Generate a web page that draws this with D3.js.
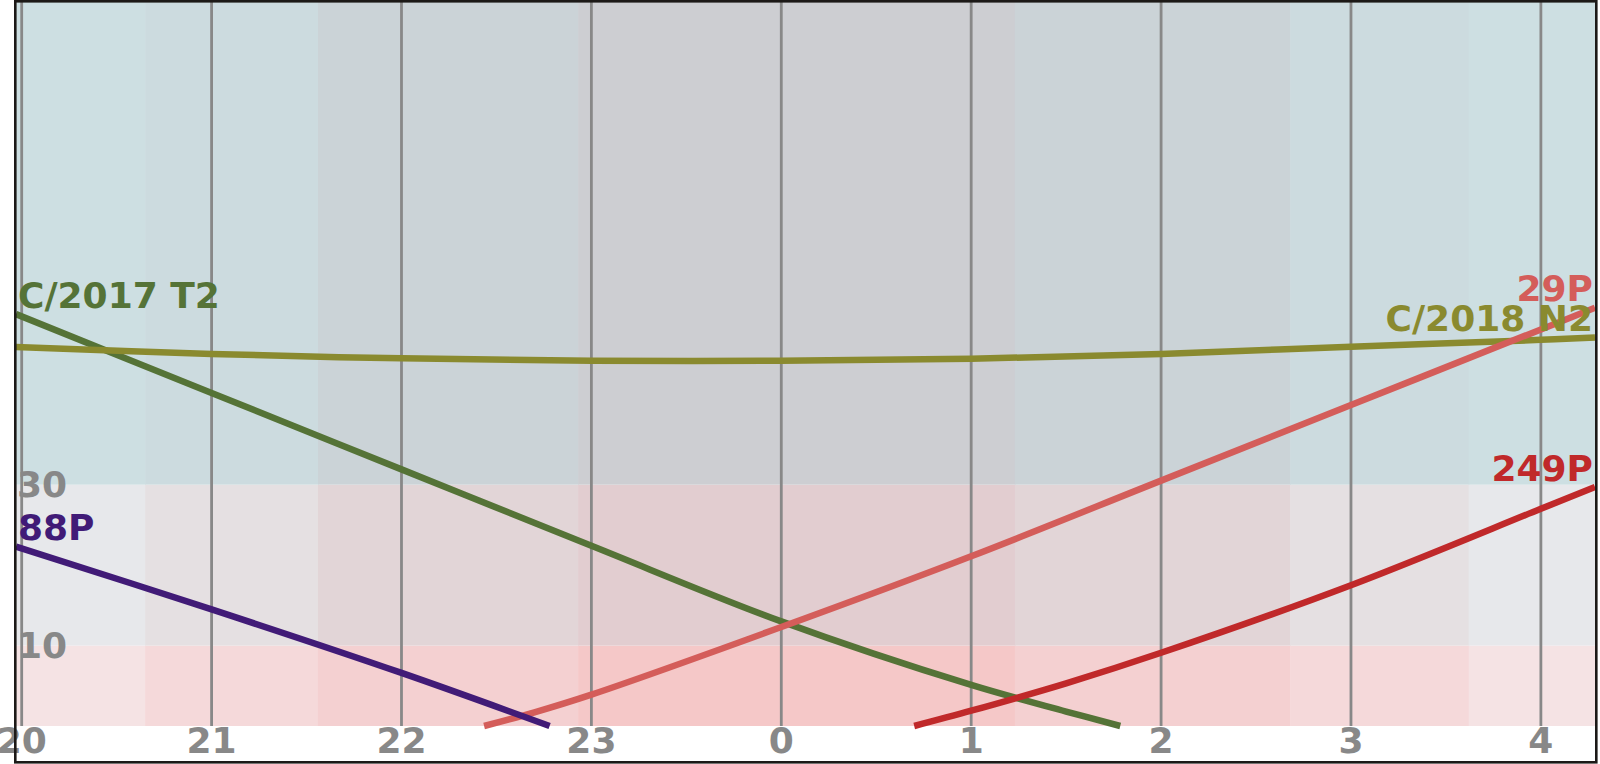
<!DOCTYPE html>
<html>
<head>
<meta charset="utf-8">
<script src="https://cdn.jsdelivr.net/npm/d3@7"></script>
<style>
  body { margin: 0; background: #fff; }
  svg { display: block; }
  text { font-family: "DejaVu Sans", sans-serif; font-weight: bold; }
</style>
</head>
<body>
<svg id="chart" width="1600" height="764"></svg>
<script>
// hours after midnight are written as 24+ so the night stays continuous
const hourTicks = [20, 21, 22, 23, 24, 25, 26, 27, 28];
const hourLabels = ["20", "21", "22", "23", "0", "1", "2", "3", "4"];
const altitudeTicks = [10, 30];
const altitudeZones = [0, 10, 30, 90];

// twilight: 0 = lightest ... 3 = full night
const twilightEdges = [19.97, 20.65, 21.56, 22.93, 25.23, 26.68, 27.62, 28.285];
const twilightLevels = [0, 1, 2, 3, 2, 1, 0];

const names = ["C/2017 T2", "C/2018 N2", "29P", "249P", "88P"];

const c2017t2Hours = [19.97, 21, 22, 23, 24, 25, 25.5, 25.785];
const c2017t2Alt   = [51.2, 41.4, 31.9, 22.4, 13.0, 5.1, 1.8, 0];

const c2018n2Hours = [19.97, 21, 22, 23, 24, 25, 26, 27, 28, 28.285];
const c2018n2Alt   = [47.1, 46.25, 45.7, 45.4, 45.4, 45.65, 46.25, 47.15, 48.0, 48.3];

const p29Hours = [22.435, 22.7, 23, 24, 25, 26, 27, 28, 28.285];
const p29Alt   = [0, 1.7, 3.9, 12.3, 21.1, 30.5, 39.9, 49.3, 52.0];

const p249Hours = [24.70, 25, 25.5, 26, 27, 28, 28.285];
const p249Alt   = [0, 1.9, 5.3, 9.1, 17.5, 27.0, 29.7];

const p88Hours = [19.97, 21, 22, 22.78];
const p88Alt   = [22.3, 14.5, 6.6, 0];

const seriesHours = [c2017t2Hours, c2018n2Hours, p29Hours, p249Hours, p88Hours];
const seriesAlt = [c2017t2Alt, c2018n2Alt, p29Alt, p249Alt, p88Alt];

// styles
const seriesColors = ["#557337", "#8a8a2f", "#d45d5a", "#c0292a", "#411b77"];
const zoneFills = [
  ["#f5e3e4", "#f5d9da", "#f4d0d1", "#f5c8c8"],   // below 10
  ["#e7e8eb", "#e5e0e2", "#e2d5d7", "#e2cdd0"],   // 10 to 30
  ["#cddfe2", "#ccdbdf", "#cbd3d7", "#cdced2"]    // above 30
];
const gray = "#888888";

var svg = d3.select("#chart");

var x = d3.scaleLinear()
    .domain([twilightEdges[0], twilightEdges[twilightEdges.length - 1]])
    .range([16, 1595]);

var y = d3.scaleLinear()
    .domain([0, 90])
    .range([726, 2]);

// background: altitude zones crossed with twilight bands
var bg = svg.append("g").attr("class", "background");
for (let i = 0; i < altitudeZones.length - 1; i++) {
    bg.selectAll(null)
        .data(twilightLevels)
        .enter().append("rect")
        .attr("x", (d, j) => x(twilightEdges[j]))
        .attr("width", (d, j) => x(twilightEdges[j + 1]) - x(twilightEdges[j]) + 0.5)
        .attr("y", y(altitudeZones[i + 1]))
        .attr("height", y(altitudeZones[i]) - y(altitudeZones[i + 1]))
        .attr("fill", d => zoneFills[i][d]);
}

// hour grid
svg.append("g")
    .attr("class", "grid")
    .selectAll("line")
    .data(hourTicks)
    .enter().append("line")
    .attr("x1", d => x(d))
    .attr("x2", d => x(d))
    .attr("y1", y(90))
    .attr("y2", y(0))
    .attr("stroke", gray)
    .attr("stroke-width", 2.8);

svg.append("g")
    .attr("class", "x-labels")
    .selectAll("text")
    .data(hourTicks)
    .enter().append("text")
    .attr("x", d => x(d))
    .attr("y", 753)
    .attr("text-anchor", "middle")
    .attr("font-size", 36)
    .attr("fill", gray)
    .text((d, i) => hourLabels[i]);

svg.append("g")
    .attr("class", "y-labels")
    .selectAll("text")
    .data(altitudeTicks)
    .enter().append("text")
    .attr("x", 17)
    .attr("y", d => y(d) + 12)
    .attr("font-size", 36)
    .attr("fill", gray)
    .text(d => d);

// altitude curves
var line = d3.line()
    .x(d => x(d[0]))
    .y(d => y(d[1]))
    .curve(d3.curveCatmullRom.alpha(0.5));

var curves = svg.append("g").attr("class", "curves");
names.forEach(function(name, i) {
    let pts = seriesHours[i].map((h, k) => [h, seriesAlt[i][k]]);
    curves.append("path")
        .attr("d", line(pts))
        .attr("fill", "none")
        .attr("stroke", seriesColors[i])
        .attr("stroke-width", 6.5);
});

// names sit at the start of setting objects, at the end of the others
var labels = svg.append("g").attr("class", "names");
names.forEach(function(name, i) {
    let hs = seriesHours[i], as = seriesAlt[i];
    let atStart = as[as.length - 1] === 0;
    let k = atStart ? 0 : hs.length - 1;
    labels.append("text")
        .attr("x", x(hs[k]) + (atStart ? 2 : -2))
        .attr("y", y(as[k]) - 6.5)
        .attr("text-anchor", atStart ? "start" : "end")
        .attr("font-size", 36)
        .attr("fill", seriesColors[i])
        .text(name);
});

svg.append("rect")
    .attr("x", 15.3)
    .attr("y", 1.3)
    .attr("width", 1581)
    .attr("height", 761)
    .attr("fill", "none")
    .attr("stroke", "#1c1917")
    .attr("stroke-width", 2.6);
</script>
</body>
</html>
